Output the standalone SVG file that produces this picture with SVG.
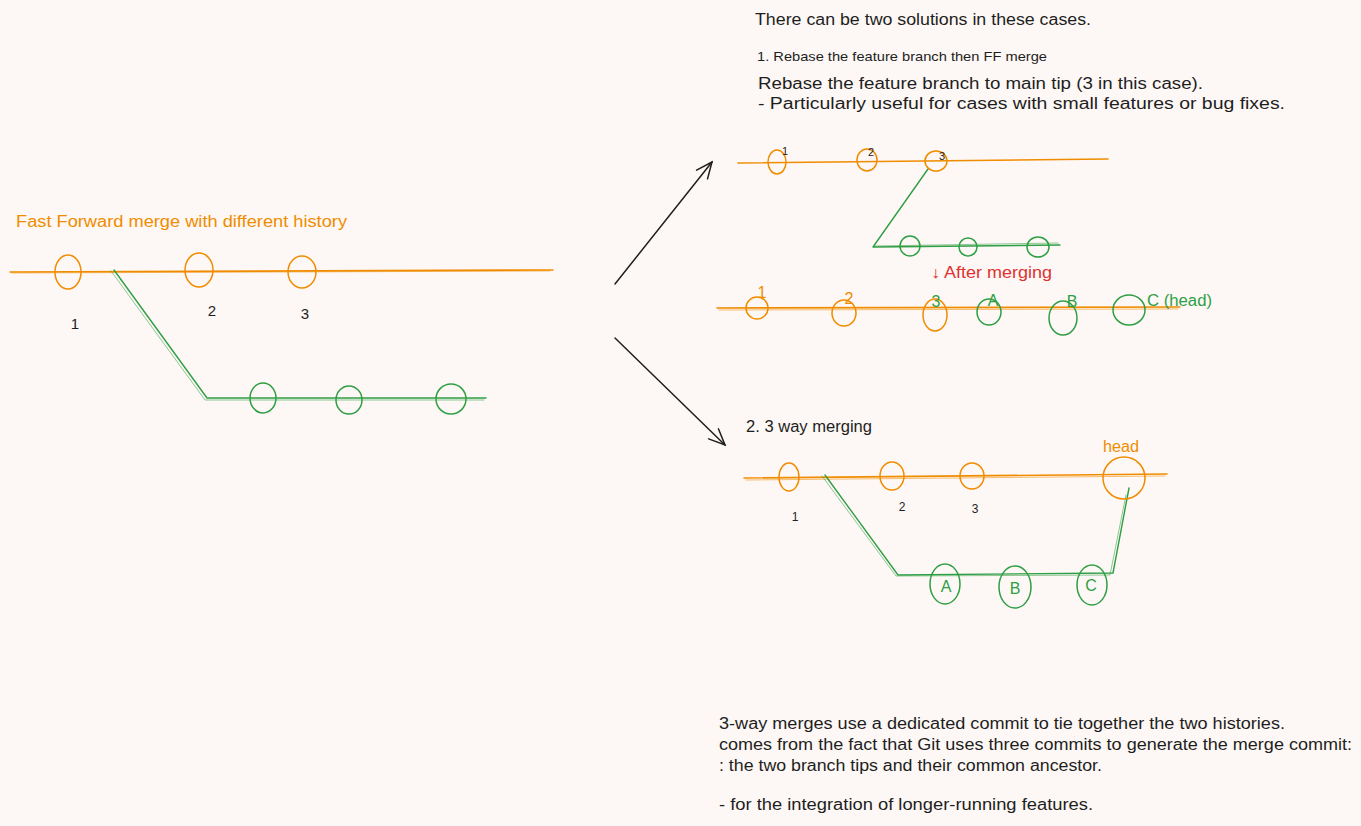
<svg xmlns="http://www.w3.org/2000/svg" width="1361" height="826" viewBox="0 0 1361 826">
<defs>
<style>
text{font-family:"Liberation Sans","Noto Sans",sans-serif;}
.t{font-size:16px;fill:#1e1e1e;}
.ts{font-size:13px;fill:#1e1e1e;}
.n{font-size:15px;fill:#1e1e1e;text-anchor:middle;}
.nl{font-size:16px;text-anchor:middle;}
.nsm{font-size:11px;fill:#1e1e1e;text-anchor:middle;}
.nmd{font-size:12px;fill:#1e1e1e;text-anchor:middle;}
.o{fill:#f08c00;}
.g{fill:#2f9e44;}
.r{fill:#e03131;}
.co{fill:none;stroke:#f08c00;stroke-width:1.5;}
.cg{fill:none;stroke:#2f9e44;stroke-width:1.5;}
.lo{fill:none;stroke:#f08c00;stroke-width:1.6;stroke-linecap:round;stroke-linejoin:round;}
.lo2{fill:none;stroke:#f08c00;stroke-width:1;opacity:.55;stroke-linecap:round;}
.lg{fill:none;stroke:#2f9e44;stroke-width:1.4;stroke-linecap:round;stroke-linejoin:round;}
.lg2{fill:none;stroke:#2f9e44;stroke-width:1;opacity:.55;stroke-linecap:round;stroke-linejoin:round;}
.arr{fill:none;stroke:#1e1e1e;stroke-width:1.5;stroke-linecap:round;}
</style>
<marker id="ah" viewBox="0 0 20 20" refX="18" refY="10" markerWidth="20" markerHeight="20" markerUnits="userSpaceOnUse" orient="auto">
<path d="M2 3 L18 10 L2 17" fill="none" stroke="#1e1e1e" stroke-width="1.5" stroke-linecap="round"/>
</marker>
</defs>
<rect width="1361" height="826" fill="#fdf8f5"/>

<!-- connectors -->
<g id="connectors">
<path class="lo" d="M10 272 L553 270"/>
<path class="lo2" d="M12 273 L550 271"/>
<path class="lg" d="M114 270 L207 398 L486 398"/>
<path class="lg2" d="M111 271 L205 400 L484 400"/>
<line class="arr" x1="615" y1="284" x2="712" y2="162" marker-end="url(#ah)"/>
<line class="arr" x1="615" y1="338" x2="725" y2="445" marker-end="url(#ah)"/>
<path class="lo" d="M738 163 L1108 159"/>
<path class="lg" d="M928 169 L873 247 L1060 245"/>
<path class="lg2" d="M874 246 L1058 243"/>
<path class="lo" d="M717 308 L1180 307"/>
<path class="lo2" d="M719 310 L1178 309"/>
<path class="lo" d="M744 478 L1167 474"/>
<path class="lo2" d="M746 480 L1165 476"/>
<path class="lg" d="M825 475 L898 575 L1113 573 L1129 488"/>
<path class="lg2" d="M822 476 L896 576 L1110 575 L1126 495"/>
</g>

<g id="title">
<text class="t o" x="16" y="227" textLength="331" lengthAdjust="spacingAndGlyphs">Fast Forward merge with different history</text>
</g>
<g id="intro">
<text class="t" x="755" y="25" textLength="336" lengthAdjust="spacingAndGlyphs">There can be two solutions in these cases.</text>
<text class="ts" x="757" y="61" textLength="290" lengthAdjust="spacingAndGlyphs">1. Rebase the feature branch then FF merge</text>
<text class="t" x="758" y="89" textLength="445" lengthAdjust="spacingAndGlyphs">Rebase the feature branch to main tip (3 in this case).</text>
<text class="t" x="758" y="109" textLength="527" lengthAdjust="spacingAndGlyphs">- Particularly useful for cases with small features or bug fixes.</text>
</g>
<g id="after-label">
<text class="t r" x="931" y="278" textLength="121" lengthAdjust="spacingAndGlyphs">↓ After merging</text>
</g>
<g id="three-way-title">
<text class="t" x="746" y="432" textLength="126" lengthAdjust="spacingAndGlyphs">2. 3 way merging</text>
</g>
<g id="notes">
<text class="t" x="719" y="729" textLength="566" lengthAdjust="spacingAndGlyphs">3-way merges use a dedicated commit to tie together the two histories.</text>
<text class="t" x="719" y="750" textLength="633" lengthAdjust="spacingAndGlyphs">comes from the fact that Git uses three commits to generate the merge commit:</text>
<text class="t" x="719" y="771" textLength="383" lengthAdjust="spacingAndGlyphs">: the two branch tips and their common ancestor.</text>
<text class="t" x="719" y="810" textLength="374" lengthAdjust="spacingAndGlyphs">- for the integration of longer-running features.</text>
</g>

<g id="ff-1"><ellipse class="co" cx="68" cy="272" rx="13" ry="17"/><text class="n" x="75" y="329">1</text></g>
<g id="ff-2"><ellipse class="co" cx="199" cy="270" rx="14" ry="17"/><text class="n" x="212" y="316">2</text></g>
<g id="ff-3"><ellipse class="co" cx="302" cy="272" rx="14" ry="16"/><text class="n" x="305" y="319">3</text></g>
<g id="ff-f1"><ellipse class="cg" cx="263" cy="398" rx="13" ry="15"/></g>
<g id="ff-f2"><ellipse class="cg" cx="349" cy="400" rx="13" ry="14"/></g>
<g id="ff-f3"><ellipse class="cg" cx="451" cy="399" rx="15" ry="15"/></g>

<g id="rb-1"><ellipse class="co" cx="777" cy="162" rx="9" ry="12"/><text class="nsm" x="785" y="155">1</text></g>
<g id="rb-2"><ellipse class="co" cx="867" cy="160" rx="10" ry="11"/><text class="nsm" x="871" y="156">2</text></g>
<g id="rb-3"><ellipse class="co" cx="936" cy="161" rx="11" ry="10"/><text class="nsm" x="942" y="160">3</text></g>
<g id="rb-f1"><ellipse class="cg" cx="910" cy="246" rx="10" ry="10"/></g>
<g id="rb-f2"><ellipse class="cg" cx="968" cy="247" rx="9" ry="9"/></g>
<g id="rb-f3"><ellipse class="cg" cx="1038" cy="247" rx="11" ry="10"/></g>

<g id="am-1"><ellipse class="co" cx="757" cy="308" rx="11" ry="11"/><text class="nl o" x="762" y="298">1</text></g>
<g id="am-2"><ellipse class="co" cx="844" cy="313" rx="12" ry="13"/><text class="nl o" x="849" y="304">2</text></g>
<g id="am-3"><ellipse class="co" cx="935" cy="315" rx="12" ry="16"/><text class="nl g" x="936" y="307">3</text></g>
<g id="am-A"><ellipse class="cg" cx="989" cy="312" rx="12" ry="13"/><text class="nl g" x="993" y="306">A</text></g>
<g id="am-B"><ellipse class="cg" cx="1063" cy="318" rx="14" ry="17"/><text class="nl g" x="1072" y="307">B</text></g>
<g id="am-C"><ellipse class="cg" cx="1129" cy="310" rx="16" ry="15"/><text class="t g" x="1147" y="306" textLength="65" lengthAdjust="spacingAndGlyphs">C (head)</text></g>

<g id="tw-1"><ellipse class="co" cx="789" cy="477" rx="10" ry="14"/><text class="nmd" x="795" y="521">1</text></g>
<g id="tw-2"><ellipse class="co" cx="892" cy="476" rx="12" ry="14"/><text class="nmd" x="902" y="511">2</text></g>
<g id="tw-3"><ellipse class="co" cx="972" cy="476" rx="12" ry="13"/><text class="nmd" x="975" y="513">3</text></g>
<g id="tw-head"><ellipse class="co" cx="1124" cy="478" rx="21" ry="21"/><text class="t o" x="1103" y="452" textLength="36" lengthAdjust="spacingAndGlyphs">head</text></g>
<g id="tw-A"><ellipse class="cg" cx="945" cy="584" rx="15" ry="20"/><text class="nl g" x="946" y="592">A</text></g>
<g id="tw-B"><ellipse class="cg" cx="1015" cy="587" rx="16" ry="21"/><text class="nl g" x="1015" y="594">B</text></g>
<g id="tw-C"><ellipse class="cg" cx="1092" cy="585" rx="15" ry="20"/><text class="nl g" x="1091" y="591">C</text></g>
</svg>
